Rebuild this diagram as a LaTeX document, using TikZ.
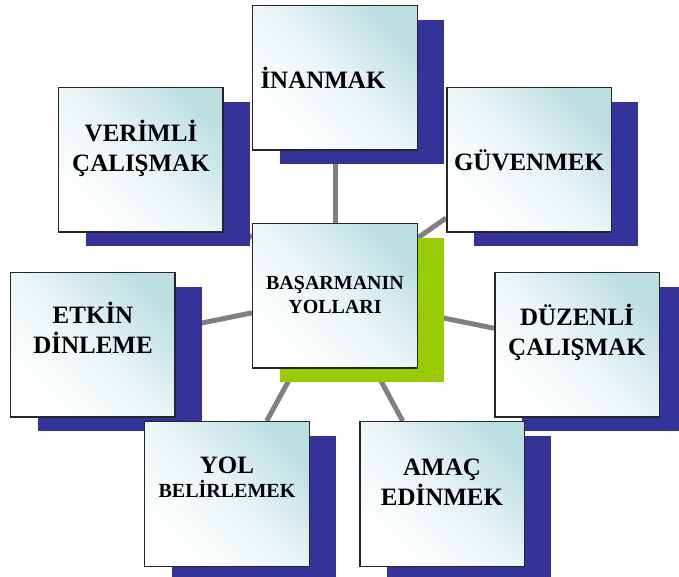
\documentclass[tikz,border=0pt]{standalone}
\usepackage{fontspec}
\setmainfont{Liberation Serif}
\usetikzlibrary{positioning,shadows,backgrounds}

\definecolor{shadowblue}{RGB}{51,51,153}
\definecolor{shadowgreen}{RGB}{153,204,0}
\definecolor{boxcyan}{RGB}{188,223,226}
\definecolor{linkgray}{RGB}{128,128,128}

\begin{document}
\begin{tikzpicture}[node distance=3cm,on grid]
        \tikzstyle{card}=[rectangle, draw=black!85, line width=1.5pt, inner sep=0pt,
            minimum width=164.5pt, minimum height=144.5pt,
            bottom color=white, top color=boxcyan, middle color=boxcyan!30!white, shading angle=-45]
        \tikzstyle{panel}=[card, drop shadow={shadow xshift=27pt, shadow yshift=-14pt, fill=shadowblue, opacity=1}]
        \tikzstyle{hub}=[card, drop shadow={shadow xshift=27pt, shadow yshift=-14pt, fill=shadowgreen, opacity=1}]
        \tikzstyle{caption}=[anchor=base, align=center, inner sep=0pt, font=\bfseries\fontsize{25}{30}\selectfont]
        \tikzstyle{link}=[color=linkgray, line width=5pt]

        \useasboundingbox (-335pt,-281pt) rectangle (344pt,296pt);

        \node[hub]   (basari)                                   {};
        \node[panel] (inanmak)  [above=218pt of basari]             {};
        \node[panel] (verimli)  [above left=136pt and 194pt of basari]  {};
        \node[panel] (guvenmek) [above right=136pt and 194pt of basari] {};
        \node[panel] (etkin)    [below left=49pt and 242pt of basari]   {};
        \node[panel] (duzenli)  [below right=49pt and 242pt of basari]  {};
        \node[panel] (yol)      [below left=198pt and 108pt of basari]  {};
        \node[panel] (amac)     [below right=198pt and 107pt of basari] {};

        % base anchor sits on the last line
        \node[caption, font=\bfseries\fontsize{20}{24}\selectfont, yshift=-18pt] (basariT) at (basari) {BAŞARMANIN\\YOLLARI};
        \node[caption, xshift=-12pt, yshift=-11pt] (inanmakT)  at (inanmak)  {İNANMAK};
        \node[caption, yshift=-12pt]               (verimliT)  at (verimli)  {VERİMLİ\\ÇALIŞMAK};
        \node[caption, yshift=-11pt]               (guvenmekT) at (guvenmek) {GÜVENMEK};
        \node[caption, yshift=-9pt]                (etkinT)    at (etkin)    {ETKİN\\DİNLEME};
        \node[caption, yshift=-11pt]               (duzenliT)  at (duzenli)  {DÜZENLİ\\ÇALIŞMAK};
        \node[caption, font=\bfseries\fontsize{20}{24}\selectfont, yshift=-3pt] (yolT) at (yol)
            {{\fontsize{25}{24}\selectfont YOL}\\BELİRLEMEK};
        \node[caption, yshift=-11pt]               (amacT)     at (amac)     {AMAÇ\\EDİNMEK};

        \begin{scope}[on background layer]
            \path[link]
                (basari) edge (inanmak)
                (basari) edge (verimli)
                (basari) edge (guvenmek)
                (basari) edge (etkin)
                (basari) edge (duzenli)
                (basari) edge (yol)
                (basari) edge (amac)
            ;
        \end{scope}
    \end{tikzpicture}
\end{document}
